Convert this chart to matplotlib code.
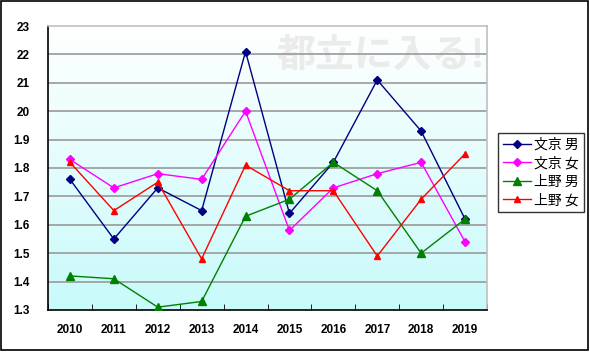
import numpy as np
import matplotlib
matplotlib.use("Agg")
import matplotlib.pyplot as plt
from matplotlib.colors import LinearSegmentedColormap

years = [2010, 2011, 2012, 2013, 2014, 2015, 2016, 2017, 2018, 2019]
bunkyo_m = [1.76, 1.55, 1.73, 1.65, 2.21, 1.64, 1.82, 2.11, 1.93, 1.62]
bunkyo_f = [1.83, 1.73, 1.78, 1.76, 2.00, 1.58, 1.73, 1.78, 1.82, 1.54]
ueno_m = [1.42, 1.41, 1.31, 1.33, 1.63, 1.69, 1.82, 1.72, 1.50, 1.62]
ueno_f = [1.82, 1.65, 1.75, 1.48, 1.81, 1.72, 1.72, 1.49, 1.69, 1.85]
series_names = ["文京 男", "文京 女", "上野 男", "上野 女"]
yticks = [1.3, 1.4, 1.5, 1.6, 1.7, 1.8, 1.9, 2.0, 2.1, 2.2, 2.3]
ytick_labels = ["1.3", "1.4", "1.5", "1.6", "1.7", "1.8", "1.9", "20", "21", "22", "23"]

plt.rcParams['font.family'] = ['Noto Sans CJK JP', 'DejaVu Sans']

fig = plt.figure(figsize=(5.9, 3.52), dpi=100)
# outer border
fig.patches.append(plt.Rectangle((0.002, 0.006), 0.995, 0.99, transform=fig.transFigure,
                                 fill=False, edgecolor="black", lw=1.2))

ax = fig.add_axes([48 / 590, 1 - 310 / 352, (487 - 48) / 590, (310 - 26) / 352])
x = np.arange(len(years))

# gradient background white (top) -> light cyan (bottom)
cmap = LinearSegmentedColormap.from_list("bg", ["#ffffff", "#c8fafa"])
grad = np.linspace(0, 1, 256).reshape(-1, 1)
ax.imshow(grad, cmap=cmap, aspect="auto", extent=[0, 1, 0, 1], origin="upper",
          transform=ax.transAxes, zorder=0)

ax.text(0.995, 0.965, "都立に入る!", transform=ax.transAxes, ha="right", va="top",
        fontsize=28, fontweight="bold", color="#ebebeb", zorder=1)

for yv in yticks[1:-1]:
    ax.axhline(yv, color="#999999", lw=1.2, zorder=1)

ax.plot(x, bunkyo_m, color="#000080", marker="D", ms=4.5, lw=1, label=series_names[0], zorder=3)
ax.plot(x, bunkyo_f, color="#ff00ff", marker="D", ms=4.5, lw=1, label=series_names[1], zorder=3)
ax.plot(x, ueno_m, color="#008000", marker="^", ms=6, lw=1, label=series_names[2], zorder=3)
ax.plot(x, ueno_f, color="#ff0000", marker="^", ms=5, lw=1, label=series_names[3], zorder=3)

ax.set_xlim(-0.5, len(years) - 0.5)
ax.set_ylim(1.3, 2.3)
ax.set_yticks(yticks)
ax.set_yticklabels(ytick_labels, family="Liberation Sans", fontweight="bold", fontsize=8.5)
ax.tick_params(axis="y", length=0, pad=13)
ax.set_xticks(x)
ax.set_xticklabels([str(y) for y in years], family="Liberation Sans", fontweight="bold", fontsize=8.5)
ax.tick_params(axis="x", which="major", length=0, pad=10)
ax.set_xticks(np.arange(-0.5, len(years)), minor=True)
ax.tick_params(axis="x", which="minor", direction="in", length=4, color="black")

ax.spines["left"].set_color("black")
ax.spines["bottom"].set_color("black")
ax.spines["top"].set_color("#c0c0c0")
ax.spines["right"].set_color("#c0c0c0")
for s in ax.spines.values():
    s.set_linewidth(1.2)

leg = fig.legend(loc="upper left", bbox_to_anchor=(498 / 590, 1 - 133 / 352),
                 fontsize=10, frameon=True, fancybox=False, edgecolor="black",
                 handlelength=2.0, handletextpad=0.25, borderpad=0.35, labelspacing=0.32,
                 borderaxespad=0)
leg.get_frame().set_linewidth(1.0)

fig.savefig("out.png", dpi=100)
